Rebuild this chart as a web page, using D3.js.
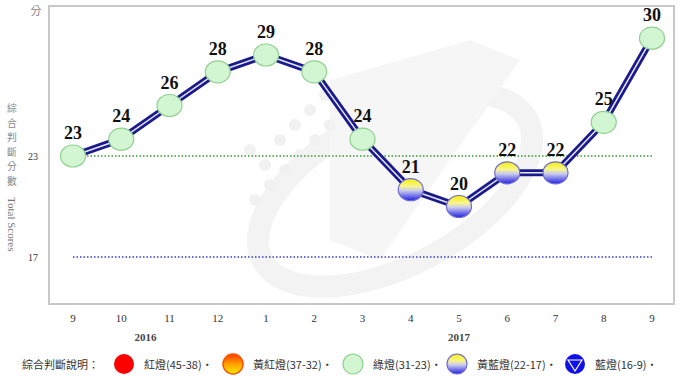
<!DOCTYPE html>
<html><head><meta charset="utf-8">
<script src="https://cdn.jsdelivr.net/npm/d3@7"></script>
<style>body{margin:0;background:#fff}svg{display:block}</style>
</head><body>
<svg id="c" width="680" height="382"></svg>
<script>
const months = ["9","10","11","12","1","2","3","4","5","6","7","8","9"];
const scores = [23,24,26,28,29,28,24,21,20,22,22,25,30];
const years = [{label:"2016", at:1.5},{label:"2017", at:8}];
const refLines = [{v:23,color:"#2e9e2e"},{v:17,color:"#3a3ae0"}];
const yTicks = [23,17];
const legendItems = [
  {label:"紅燈(45-38)‧", type:"red"},
  {label:"黃紅燈(37-32)‧", type:"yr"},
  {label:"綠燈(31-23)‧", type:"green"},
  {label:"黃藍燈(22-17)‧", type:"yb"},
  {label:"藍燈(16-9)‧", type:"blue"}
];
const legendTitle = "綜合判斷說明：";
const yTitle = "綜合判斷分數";

const svg = d3.select("#c");
const x = d3.scalePoint().domain(d3.range(months.length)).range([73,652]);
const y = d3.scaleLinear().domain([17,23]).range([257,156]);

const defs = svg.append("defs");
const gYB = defs.append("linearGradient").attr("id","gyb").attr("x1",0).attr("y1",0).attr("x2",0).attr("y2",1);
gYB.append("stop").attr("offset","0%").attr("stop-color","#f5f000");
gYB.append("stop").attr("offset","35%").attr("stop-color","#f8f590");
gYB.append("stop").attr("offset","55%").attr("stop-color","#c8c8f0");
gYB.append("stop").attr("offset","100%").attr("stop-color","#2020e0");
const gYR = defs.append("linearGradient").attr("id","gyr").attr("x1",0).attr("y1",0).attr("x2",0).attr("y2",1);
gYR.append("stop").attr("offset","0%").attr("stop-color","#ff3a00");
gYR.append("stop").attr("offset","50%").attr("stop-color","#ffa000");
gYR.append("stop").attr("offset","100%").attr("stop-color","#ffee00");

// watermark
const wm = svg.append("g").attr("opacity",0.45);
wm.append("ellipse").attr("cx",395).attr("cy",190).attr("rx",150).attr("ry",75)
  .attr("transform","rotate(-28 395 190)").attr("fill","none").attr("stroke","#e6e6e6").attr("stroke-width",22);
wm.append("path").attr("d","M330 80 L470 40 L520 60 L380 260 L330 240 Z").attr("fill","#ececec");
const dots = [[250,150],[265,165],[280,140],[295,125],[300,155],[310,110],[315,140],[325,95],[330,125],[270,185],[285,170],[255,200]];
wm.selectAll("circle.d").data(dots).join("circle").attr("cx",d=>d[0]).attr("cy",d=>d[1]).attr("r",6).attr("fill","#e2e2e2");

// frame
svg.append("rect").attr("x",49).attr("y",6).attr("width",625).attr("height",298)
  .attr("fill","none").attr("stroke","#c8c8c8").attr("stroke-width",2);

// reference lines
svg.selectAll("line.ref").data(refLines).join("line")
  .attr("x1",x(0)).attr("x2",x(months.length-1))
  .attr("y1",d=>y(d.v)).attr("y2",d=>y(d.v))
  .attr("stroke",d=>d.color).attr("stroke-width",1.3).attr("stroke-dasharray","1.5,2");

// y tick labels
svg.selectAll("text.yt").data(yTicks).join("text")
  .attr("x",38).attr("y",d=>y(d)+4).attr("text-anchor","end")
  .attr("font-family","Liberation Serif, serif").attr("font-size",10).attr("fill","#333").text(d=>d);
svg.append("text").attr("x",36).attr("y",15).attr("text-anchor","middle")
  .attr("font-family","Noto Sans CJK TC").attr("font-size",11).attr("fill","#888").text("分");

// y title (stacked characters)
svg.selectAll("text.yc").data(yTitle.split("")).join("text")
  .attr("x",12).attr("y",(d,i)=>112+i*14.6).attr("text-anchor","middle")
  .attr("font-family","Noto Sans CJK TC").attr("font-size",9.8).attr("fill","#888").text(d=>d);
svg.append("text").attr("transform","translate(8,197) rotate(90)")
  .attr("font-family","Liberation Serif, serif").attr("font-size",11).attr("fill","#777").text("Total Scores");

// x labels
svg.selectAll("text.xl").data(months).join("text")
  .attr("x",(d,i)=>x(i)).attr("y",322).attr("text-anchor","middle")
  .attr("font-family","Liberation Serif, serif").attr("font-size",11).attr("fill","#333").text(d=>d);
svg.selectAll("text.yr").data(years).join("text")
  .attr("x",d=>x(0)+d.at*(x(1)-x(0))).attr("y",341).attr("text-anchor","middle")
  .attr("font-family","Liberation Serif, serif").attr("font-size",11).attr("font-weight","bold").attr("fill","#444").text(d=>d.label);

// line
const line = d3.line().x((d,i)=>x(i)).y(d=>y(d));
svg.append("path").datum(scores).attr("d",line).attr("fill","none")
  .attr("stroke","#1a1a8c").attr("stroke-width",7).attr("stroke-linejoin","round");
svg.append("path").datum(scores).attr("d",line).attr("fill","none")
  .attr("stroke","#e8e8ff").attr("stroke-width",1.5).attr("stroke-linejoin","round");

// markers
svg.selectAll("ellipse.m").data(scores).join("ellipse")
  .attr("cx",(d,i)=>x(i)).attr("cy",d=>y(d)).attr("rx",12.5).attr("ry",11)
  .attr("fill",d=>d>=23?"#d2f5d2":"url(#gyb)")
  .attr("stroke",d=>d>=23?"#8fd08f":"#6a6ad8").attr("stroke-width",1.2);

// value labels
svg.selectAll("text.v").data(scores).join("text")
  .attr("x",(d,i)=>x(i)).attr("y",d=>y(d)-17).attr("text-anchor","middle")
  .attr("font-family","Liberation Serif, serif").attr("font-size",18).attr("font-weight","bold").attr("fill","#111").text(d=>d);

// legend
const lg = svg.append("g");
lg.append("text").attr("x",22).attr("y",369).attr("font-family","Noto Sans CJK TC").attr("font-size",11).attr("fill","#333").text(legendTitle);
const lx = [124,233,353,457,575];
legendItems.forEach((it,i)=>{
  const cx = lx[i], cy=364;
  if(it.type==="red") lg.append("circle").attr("cx",cx).attr("cy",cy).attr("r",10).attr("fill","#ff0000");
  if(it.type==="yr") lg.append("circle").attr("cx",cx).attr("cy",cy).attr("r",10).attr("fill","url(#gyr)").attr("stroke","#ff5000").attr("stroke-width",1.5);
  if(it.type==="green") lg.append("circle").attr("cx",cx).attr("cy",cy).attr("r",10).attr("fill","#d2f5d2").attr("stroke","#8fd08f").attr("stroke-width",1.2);
  if(it.type==="yb") lg.append("circle").attr("cx",cx).attr("cy",cy).attr("r",10).attr("fill","url(#gyb)").attr("stroke","#6a6ad8").attr("stroke-width",1.2);
  if(it.type==="blue"){
    lg.append("circle").attr("cx",cx).attr("cy",cy).attr("r",10).attr("fill","#1010e8");
    lg.append("path").attr("d",`M${cx-7},${cy-4} L${cx+7},${cy-4} L${cx},${cy+7} Z`).attr("fill","none").attr("stroke","#fff").attr("stroke-width",1.2);
  }
  lg.append("text").attr("x",cx+20).attr("y",369).attr("font-family","Noto Sans CJK TC").attr("font-size",11).attr("fill","#333").text(it.label);
});
</script>
</body></html>
